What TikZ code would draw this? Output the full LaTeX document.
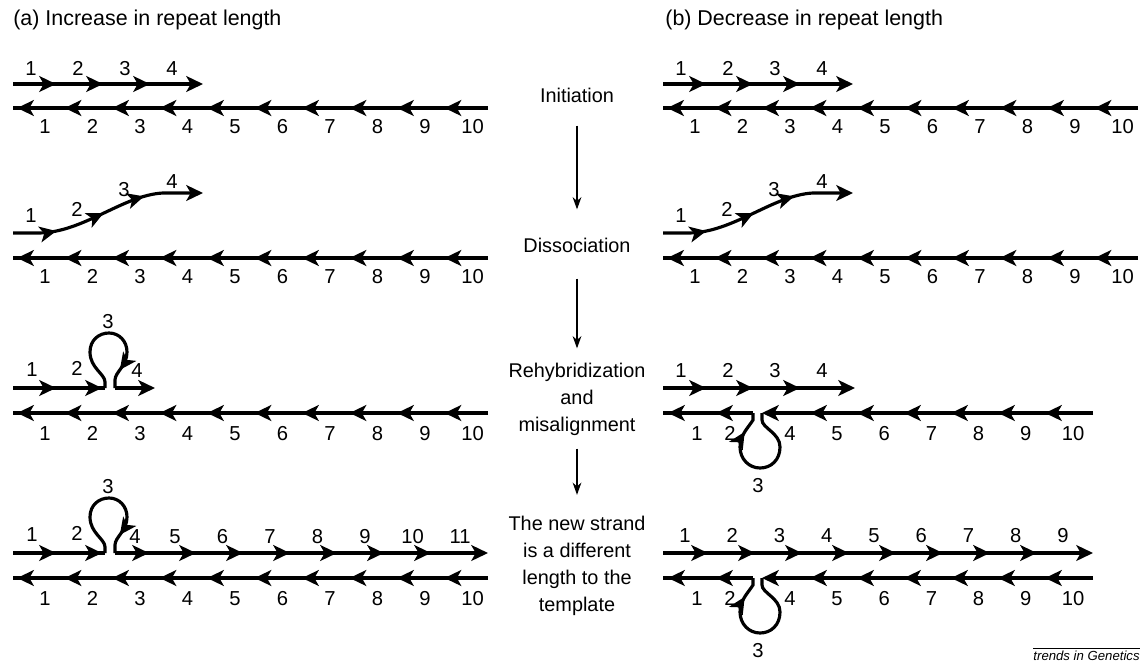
\documentclass[tikz,border=0pt]{standalone}
\usepackage{fontspec}
\setmainfont{Liberation Sans}
\usetikzlibrary{arrows.meta,decorations.markings}

\begin{document}
\begin{tikzpicture}[x=0.02cm,y=-0.02cm,
	>={Stealth[length=9.5pt,width=9pt,inset=2.5pt]},
	strand/.style={line width=1.8pt},
	repeats/.style n args={3}{postaction={decorate},decoration={markings,
		mark=between positions #1 and #2 step #3 with {\arrow{>}}}},
	looptip/.style={postaction={decorate},decoration={markings,
		mark=at position #1 with {\arrow{>}}}},
	num/.style={font=\fontsize{11.5}{12}\selectfont,inner sep=0pt,text height=8.3pt,text depth=0pt},
	stage/.style={font=\fontsize{11.3}{15.4}\selectfont,align=center,inner sep=0pt},
	head/.style={font=\fontsize{12.2}{14}\selectfont,anchor=west,inner sep=0pt},
	flow/.style={line width=0.6pt,-{Stealth[length=7pt,width=5pt]}}]
	\useasboundingbox (0,0) rectangle (1145,663);
	% headings
	\node[head] (heada) at (13,20) {(a) Increase in repeat length};
	\node[head] (headb) at (665,20) {(b) Decrease in repeat length};
	% stages
	\node[stage] (init) at (577,95) {Initiation};
	\node[stage] (dissoc) at (577,245) {Dissociation};
	\node[stage] (rehyb) at (577,399) {Rehybridization\\and\\misalignment};
	\node[stage] (result) at (577,566) {The new strand\\is a different\\length to the\\template};
	\draw[flow,shorten <=0.46cm,shorten >=0.56cm] (init) -- (dissoc);
	\draw[flow,shorten <=0.52cm,shorten >=0.28cm] (dissoc) -- (rehyb);
	\draw[flow,shorten <=0.26cm,shorten >=0.42cm] (rehyb) -- (result);
	% initiation and dissociation, both panels
	\foreach \ox in {13,663}{
		\draw[strand,->,repeats={0.86cm}{3cm}{0.94cm}] (\ox,84) -- (\ox+190,84);
		\foreach \i in {1,...,4}
			\node[num] (ini\i) at (\ox+18+47*\i-47,68) {\i};
		\draw[strand,repeats={0.87cm}{9.5cm}{0.95cm}] (\ox+475,108) -- (\ox,108);
		\draw[strand,repeats={0.87cm}{9.5cm}{0.95cm}] (\ox+475,258) -- (\ox,258);
		\foreach \i in {1,...,10}{
			\node[num] (tpa\i) at (\ox+32+47.5*\i-47.5,126) {\i};
			\node[num] (tpb\i) at (\ox+32+47.5*\i-47.5,276) {\i};
		}
		\draw[strand,->,postaction={decorate},decoration={markings,
			mark=at position 0.87cm with {\arrow{>}},
			mark=at position 1.88cm with {\arrow{>}},
			mark=at position 2.76cm with {\arrow{>}}}]
			(\ox,233) -- (\ox+25,233) .. controls (\ox+70,233) and (\ox+110,195) .. (\ox+150,193) -- (\ox+190,193);
		\node[num] (dis1) at (\ox+18,215) {1};
		\node[num] (dis2) at (\ox+64,209) {2};
		\node[num] (dis3) at (\ox+111,189) {3};
		\node[num] (dis4) at (\ox+159,181) {4};
	}
	% (a) rehybridization: loop in the new strand
	\foreach \Y in {388,553}{
		\draw[strand,repeats={0.86cm}{1.9cm}{0.92cm}] (13,\Y) -- (105,\Y);
		\draw[strand,looptip=0.86] (105,\Y) -- (105,\Y-6)
			.. controls (105,\Y-14) and (90,\Y-20) .. (90,\Y-36)
			.. controls (90,\Y-48) and (99,\Y-55) .. (109,\Y-55)
			.. controls (119,\Y-55) and (127,\Y-47) .. (127,\Y-36)
			.. controls (127,\Y-22) and (115,\Y-16) .. (115,\Y-8) -- (115,\Y);
		\node[num] (ln1) at (32,\Y-19) {1};
		\node[num] (ln2) at (77,\Y-20) {2};
		\node[num] (ln3) at (108,\Y-67) {3};
		\draw[strand,repeats={0.87cm}{9.5cm}{0.95cm}] (488,\Y+25) -- (13,\Y+25);
		\foreach \i in {1,...,10}
			\node[num] (lt\i) at (45+47.5*\i-47.5,\Y+45) {\i};
	}
	\draw[strand,->] (115,388) -- (155,388);
	\node[num] (ln4) at (137,370) {4};
	\draw[strand,->,repeats={0.68cm}{6.4cm}{0.94cm}] (115,553) -- (488,553);
	\node[num] (lm4) at (135,536) {4};
	\foreach \i in {5,...,11}
		\node[num] (lm\i) at (175+47.5*\i-237.5,536) {\i};
	% (b) rehybridization: loop in the template
	\draw[strand,->,repeats={0.86cm}{3cm}{0.94cm}] (663,388) -- (855,388);
	\foreach \i in {1,...,4}
		\node[num] (rn\i) at (681+47*\i-47,370) {\i};
	\draw[strand,->,repeats={0.9cm}{7.6cm}{0.94cm}] (663,553) -- (1093,553);
	\foreach \i in {1,...,9}
		\node[num] (rm\i) at (685+47.25*\i-47.25,535) {\i};
	\foreach \Y in {413,578}{
		\draw[strand,repeats={0.74cm}{2cm}{0.96cm}] (753,\Y) -- (663,\Y);
		\draw[strand,->,repeats={0.96cm}{6cm}{0.94cm}] (1093,\Y) -- (762,\Y);
		\draw[strand,looptip=0.85] (762,\Y) -- (762,\Y+7)
			.. controls (762,\Y+15) and (780,\Y+20) .. (780,\Y+34)
			.. controls (780,\Y+47) and (771,\Y+55) .. (760,\Y+55)
			.. controls (749,\Y+55) and (740,\Y+46) .. (740,\Y+34)
			.. controls (740,\Y+22) and (748,\Y+15) .. (753,\Y+7) -- (753,\Y);
		\node[num] (rt1) at (697,\Y+20) {1};
		\node[num] (rt2) at (730,\Y+20) {2};
		\node[num] (rt3) at (758,\Y+72) {3};
		\node[num] (rt4) at (790,\Y+20) {4};
		\foreach \i in {5,...,10}
			\node[num] (rt\i) at (837+47.2*\i-236,\Y+20) {\i};
	}
	% credit
	\node[font=\fontsize{7.5}{9}\selectfont\itshape,anchor=south east,inner sep=0pt] (credit) at (1140,661) {trends in Genetics};
	\draw[line width=0.4pt] ([yshift=1.5pt]credit.north west) -- ([yshift=1.5pt]credit.north east);
\end{tikzpicture}
\end{document}
